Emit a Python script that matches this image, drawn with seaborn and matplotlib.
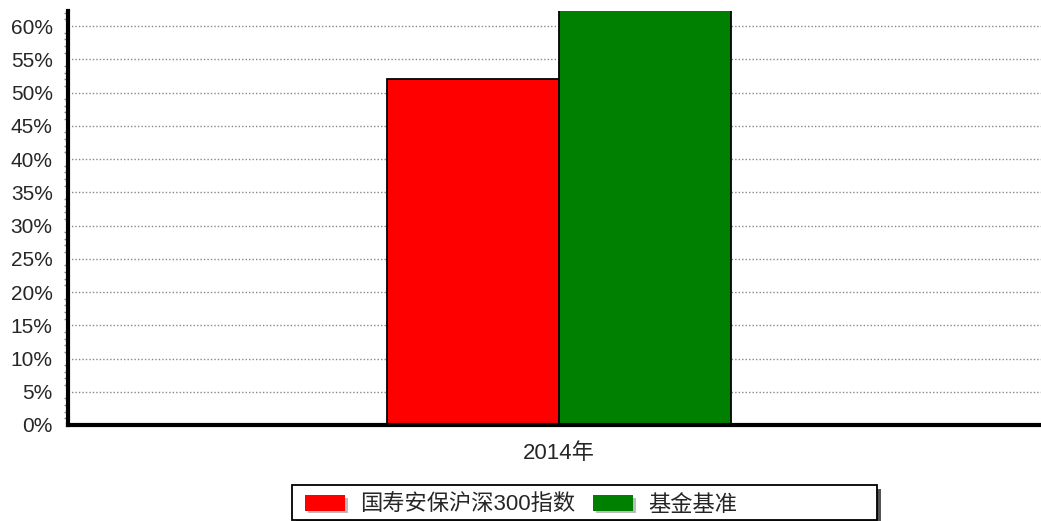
import matplotlib
matplotlib.use('Agg')
import matplotlib.pyplot as plt
import matplotlib.patheffects as pe
import seaborn as sns
import pandas as pd
from matplotlib.patches import Rectangle
from matplotlib.ticker import MultipleLocator, PercentFormatter

# data (green bar is clipped at the top)
years = ['2014年']
series = ['国寿安保沪深300指数', '基金基准']
values = [52.1, 64.0]
colors = ['#ff0000', '#008000']

df = pd.DataFrame({'year': years * len(series), 'series': series, 'value': values})

sns.set_style('white')
plt.rcParams['font.family'] = ['Liberation Sans', 'Noto Sans CJK SC', 'DejaVu Sans']

W, H = 1041, 521
fig = plt.figure(figsize=(W / 100, H / 100), dpi=100)
ax = fig.add_axes([68 / W, 1 - 425 / H, (1050 - 68) / W, (425 - 11) / H])

sns.barplot(data=df, x='year', y='value', hue='series', palette=colors,
            width=0.35, gap=0, edgecolor='black', linewidth=1.3,
            saturation=1, ax=ax, legend=False)

ax.set_xlim(-0.5, 0.5)
ax.set_ylim(0, 62.26)
ax.yaxis.set_major_locator(MultipleLocator(5))
ax.yaxis.set_minor_locator(MultipleLocator(1))
ax.yaxis.set_major_formatter(PercentFormatter(decimals=0))
ax.set_xlabel('')
ax.set_ylabel('')

ax.grid(axis='y', which='major', color='#888888', linestyle=(0, (1, 1.5)), linewidth=1)
ax.set_axisbelow(True)

for s in ['top', 'right']:
    ax.spines[s].set_visible(False)
for s in ['left', 'bottom']:
    ax.spines[s].set_linewidth(3)
    ax.spines[s].set_color('black')

ax.tick_params(axis='y', which='major', direction='out', length=6, width=1,
               color='#888888', labelsize=15, pad=5)
ax.tick_params(axis='y', which='minor', direction='out', length=3, width=1,
               color='#888888', left=True)
ax.tick_params(axis='x', direction='out', length=6, width=1, color='#888888',
               labelsize=16, pad=7)

# legend box with a drop shadow, drawn by hand so the entries sit at the left
x0, x1, y0, y1 = 292, 877, 485, 520
fig.patches.append(Rectangle(((x0 + 4) / W, 1 - (y1 + 4) / H), (x1 - x0) / W, (y1 - y0) / H,
                             transform=fig.transFigure, facecolor='#555555',
                             edgecolor='none', zorder=1))
fig.patches.append(Rectangle((x0 / W, 1 - y1 / H), (x1 - x0) / W, (y1 - y0) / H,
                             transform=fig.transFigure, facecolor='white',
                             edgecolor='black', linewidth=1.3, zorder=2))

shadow = [pe.SimplePatchShadow(offset=(2, -2), shadow_rgbFace='#bbbbbb', alpha=1), pe.Normal()]
handles = [Rectangle((0, 0), 1, 1, facecolor=c, edgecolor='none', path_effects=shadow)
           for c in colors]
leg = fig.legend(handles, series, loc='center left',
                 bbox_to_anchor=(305 / W, 1 - 505 / H), ncol=2, frameon=False,
                 fontsize=16, handlelength=1.8, handleheight=0.7,
                 handletextpad=0.68, columnspacing=0.8, borderpad=0, borderaxespad=0)
leg.set_zorder(3)

fig.savefig('out.png', dpi=100)
